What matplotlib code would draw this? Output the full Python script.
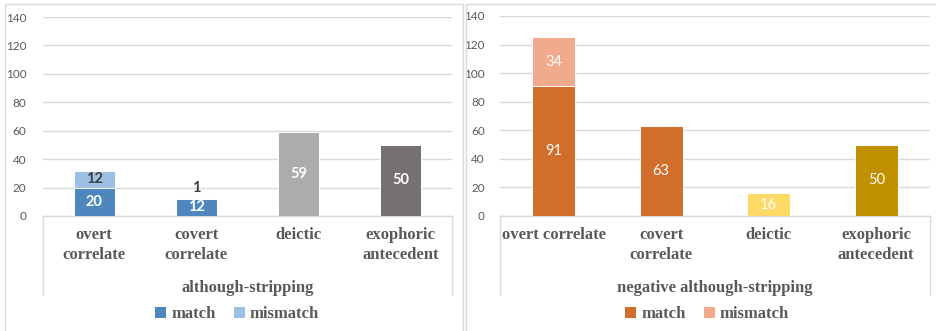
import matplotlib
matplotlib.use("Agg")
import matplotlib.pyplot as plt
from matplotlib.patches import Rectangle, Patch
from matplotlib.lines import Line2D

# ---- data ----
left_categories = ["overt\ncorrelate", "covert\ncorrelate", "deictic", "exophoric\nantecedent"]
right_categories = ["overt correlate", "covert\ncorrelate", "deictic", "exophoric\nantecedent"]
left_title = "although-stripping"
right_title = "negative although-stripping"
series_names = ["match", "mismatch"]

left_match = [20, 12, 59, 50]
left_mismatch = [12, 1, 0, 0]
right_match = [91, 63, 16, 50]
right_mismatch = [34, 0, 0, 0]

yticks = [0, 20, 40, 60, 80, 100, 120, 140]

# ---- styles ----
left_match_colors = ["#4E86BE", "#4E86BE", "#AEABAB", "#767171"]
left_mismatch_color = "#9CC0E5"
right_match_colors = ["#D26E2B", "#D26E2B", "#FFD966", "#C09000"]
right_mismatch_color = "#F2AA8C"
grid_color = "#D9D9D9"
text_grey = "#595959"
SERIF = "Liberation Serif"
SANS = "Lato"

W, H = 937, 331
fig = plt.figure(figsize=(W / 100, H / 100), dpi=100)


def fx(px):
    return px / W


def fy(py):
    return 1 - py / H


# panel frames
fig.patches.append(Rectangle((fx(5), fy(340)), fx(463 - 5), fy(4) - fy(340),
                             transform=fig.transFigure, fill=False,
                             edgecolor=grid_color, linewidth=1.0))
fig.patches.append(Rectangle((fx(466), fy(340)), fx(950 - 466), fy(4) - fy(340),
                             transform=fig.transFigure, fill=False,
                             edgecolor=grid_color, linewidth=1.0))


def draw_panel(x0, x1, y_top, y0, cats, match, mismatch, mcolors, mmcolor,
               title, bold_labels, mm_label_color, small_label_y, legend_center,
               tick_pad):
    ax = fig.add_axes([fx(x0), fy(y0), fx(x1 - x0), fy(y_top) - fy(y0)])
    ax.set_xlim(-0.5, len(cats) - 0.5)
    ax.set_ylim(0, 140)
    xs = list(range(len(cats)))
    ax.bar(xs, match, width=0.4, color=mcolors, edgecolor="white",
           linewidth=0.7, zorder=3)
    ax.bar(xs, mismatch, width=0.4, bottom=match, color=mmcolor,
           edgecolor="white", linewidth=0.7, zorder=3)

    weight = "bold" if bold_labels else "normal"
    for x, m, mm in zip(xs, match, mismatch):
        ax.text(x, m / 2, str(m), ha="center", va="center", color="white",
                fontsize=10.5, fontweight=weight, family=SANS, zorder=4)
        if mm > 0:
            if mm < 5:
                ax.text(x, m + mm + small_label_y, str(mm), ha="center",
                        va="center", color=mm_label_color, fontsize=10.5,
                        fontweight=weight, family=SANS, zorder=4)
            else:
                ax.text(x, m + mm / 2, str(mm), ha="center", va="center",
                        color=mm_label_color, fontsize=10.5, fontweight=weight,
                        family=SANS, zorder=4)

    ax.set_yticks(yticks)
    ax.set_yticklabels([str(v) for v in yticks])
    for lab in ax.get_yticklabels():
        lab.set_fontfamily(SANS)
        lab.set_fontsize(8.5)
        lab.set_color(text_grey)
    ax.tick_params(axis="y", length=0, pad=tick_pad)
    ax.set_xticks(xs)
    ax.set_xticklabels(cats)
    for lab in ax.get_xticklabels():
        lab.set_fontfamily(SERIF)
        lab.set_fontweight("bold")
        lab.set_fontsize(12)
        lab.set_color(text_grey)
        lab.set_linespacing(1.35)
    ax.tick_params(axis="x", length=0, pad=8)
    ax.grid(axis="y", color=grid_color, linewidth=1.0, zorder=0)
    for s in ["top", "right", "left"]:
        ax.spines[s].set_visible(False)
    ax.spines["bottom"].set_color(grid_color)
    ax.spines["bottom"].set_linewidth(1.0)

    # multi-level category box sides
    for px in (x0, x1):
        fig.add_artist(Line2D([fx(px), fx(px)], [fy(y0), fy(295)],
                              transform=fig.transFigure, color=grid_color,
                              linewidth=1.0))
    fig.text(fx((x0 + x1) / 2), fy(288), title, ha="center", va="center",
             family=SERIF, fontweight="bold", fontsize=12, color=text_grey)

    handles = [Patch(facecolor=mcolors[0], edgecolor="none"),
               Patch(facecolor=mmcolor, edgecolor="none")]
    leg = fig.legend(handles, series_names, loc="center",
                     bbox_to_anchor=(fx(legend_center), fy(314)),
                     ncol=2, frameon=False, handlelength=0.65,
                     handleheight=0.65, handletextpad=0.3, columnspacing=1.1,
                     prop={"family": SERIF, "weight": "bold", "size": 12})
    for t in leg.get_texts():
        t.set_color(text_grey)
    return ax


draw_panel(43, 452, 17, 216, left_categories, left_match, left_mismatch,
           left_match_colors, left_mismatch_color, left_title, True,
           "#404040", 7, 237, 12)
draw_panel(500, 930, 16, 216, right_categories, right_match, right_mismatch,
           right_match_colors, right_mismatch_color, right_title, False,
           "white", 7, 707, 11)

fig.savefig("out.png", dpi=100, facecolor="white")
